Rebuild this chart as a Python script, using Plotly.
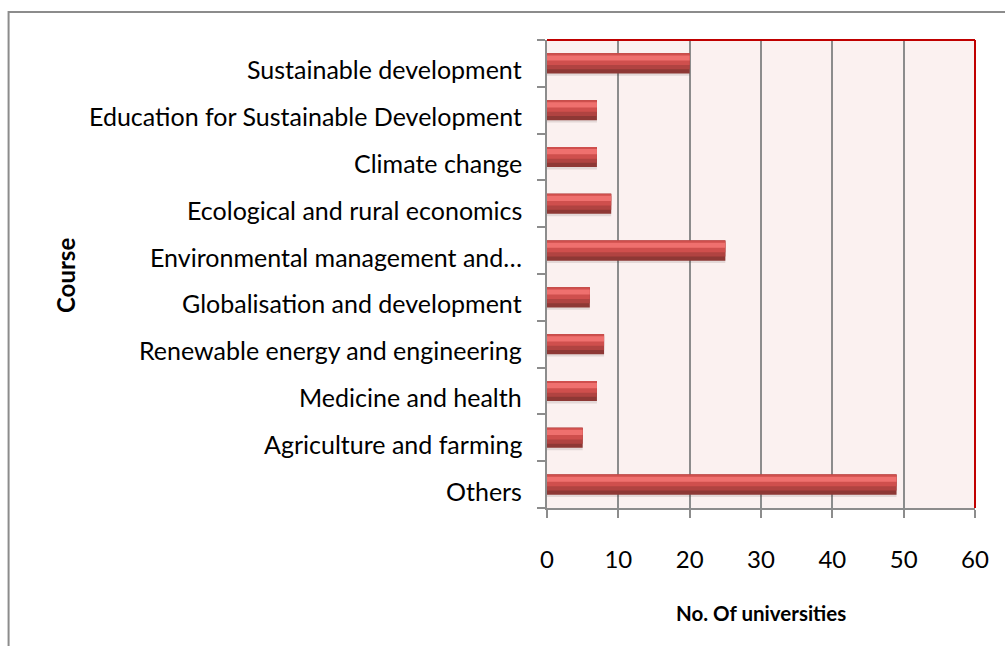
import plotly.graph_objects as go

# Courses, listed from the bottom of the chart to the top
courses = [
    "Others",
    "Agriculture and farming",
    "Medicine and health",
    "Renewable energy and engineering",
    "Globalisation and development",
    "Environmental management and…",
    "Ecological and rural economics",
    "Climate change",
    "Education for Sustainable Development",
    "Sustainable development",
]
universities = [49, 5, 7, 8, 6, 25, 9, 7, 7, 20]

x_ticks = [0, 10, 20, 30, 40, 50, 60]

FONT = "Lato, Carlito, Calibri, sans-serif"
AXIS_GREY = "#8c8c8c"

fig = go.Figure()

# Bar thickness in category units; layered bars build the bevelled gradient look
half = 0.215
layers = [
    # (colour, offset, width)
    ("rgba(60,40,40,0.12)", -half - 0.05, 2 * half),   # soft drop shadow
    ("#8e3835", -half, 2 * half),                      # dark lower edge
    ("#b04341", -half + 0.09, 2 * half - 0.09),
    ("#cf4f4d", -half + 0.18, 2 * half - 0.18),        # body
    ("#ef706e", 0.06, 0.11),                           # highlight stripe
]
for colour, off, wid in layers:
    fig.add_trace(go.Bar(
        x=universities,
        y=courses,
        orientation="h",
        marker=dict(color=colour, line=dict(width=0)),
        offset=off,
        width=wid,
        hovertemplate="%{y}: %{x}<extra></extra>",
        showlegend=False,
    ))

fig.update_layout(
    width=1005,
    height=646,
    margin=dict(l=547, r=30, t=40, b=138),
    barmode="overlay",
    paper_bgcolor="white",
    plot_bgcolor="#fbf1f0",
    font=dict(family=FONT, size=24, color="#000000"),
    showlegend=False,
)

fig.update_xaxes(
    range=[0, 60],
    tickvals=x_ticks,
    ticktext=[str(v) for v in x_ticks],
    tickfont=dict(size=24),
    showgrid=True,
    gridcolor=AXIS_GREY,
    gridwidth=2,
    zeroline=False,
    showline=True,
    linecolor=AXIS_GREY,
    linewidth=2,
    ticks="outside",
    ticklen=8,
    tickwidth=2,
    tickcolor=AXIS_GREY,
    ticklabelstandoff=21,
    fixedrange=True,
)

fig.update_yaxes(
    type="category",
    categoryorder="array",
    categoryarray=courses,
    range=[-0.5, len(courses) - 0.5],
    showticklabels=False,
    showgrid=False,
    zeroline=False,
    showline=True,
    linecolor=AXIS_GREY,
    linewidth=2,
    ticks="outside",
    tickson="boundaries",
    ticklen=8,
    tickwidth=2,
    tickcolor=AXIS_GREY,
    fixedrange=True,
)

# Category labels, right-aligned against the axis and sitting a little low
for name in courses:
    fig.add_annotation(text=name, xref="paper", yref="y", x=0, y=name,
                       xanchor="right", yanchor="middle", xshift=-23, yshift=-6,
                       showarrow=False, font=dict(size=25))

# Axis titles
fig.add_annotation(text="<b>No. Of universities</b>", xref="paper", yref="paper",
                   x=0.5, y=(508 - 613) / 468, showarrow=False,
                   font=dict(size=20.5), xanchor="center", yanchor="middle")
fig.add_annotation(text="<b>Course</b>", xref="paper", yref="paper",
                   x=(65 - 547) / 428, y=(508 - 276) / 468, textangle=-90,
                   showarrow=False, font=dict(size=24),
                   xanchor="center", yanchor="middle")

# Red frame on the top and right of the plot area
fig.add_shape(type="line", xref="paper", yref="paper", x0=0, x1=1, y0=1, y1=1,
              line=dict(color="#c00000", width=2))
fig.add_shape(type="line", xref="paper", yref="paper", x0=1, x1=1, y0=0, y1=1,
              line=dict(color="#c00000", width=2))

# Outer chart frame
fig.add_shape(type="rect", xref="paper", yref="paper",
              x0=-1.258, x1=1.09, y0=-0.32, y1=1.0598,
              line=dict(color=AXIS_GREY, width=2), fillcolor="rgba(0,0,0,0)",
              layer="below")

fig.write_html("out.html")
